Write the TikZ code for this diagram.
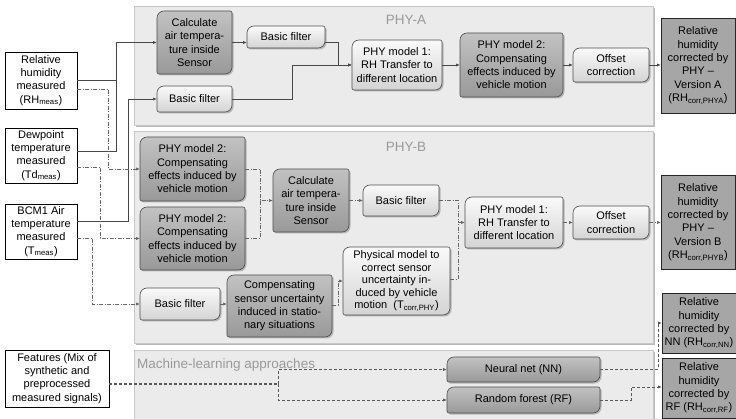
\documentclass[tikz,border=0pt]{standalone}
\usepackage{fontspec}
\setmainfont{Liberation Sans}
\usetikzlibrary{arrows.meta}
\pgfdeclarelayer{back}
\pgfdeclarelayer{boxes}
\pgfsetlayers{back,boxes,main}

\tikzset{
  txt/.style={font=\fontsize{11}{13.3}\selectfont, align=center, inner sep=0pt, outer sep=0pt},
  boxsize/.style 2 args={minimum width=#1pt, minimum height=#2pt},
  inbox/.style={txt, draw=black, fill=white, line width=0.8pt},
  outbox/.style={txt, draw=black!85, fill=black!35, line width=0.8pt},
  darkfill/.style={draw=black!70, line width=0.6pt, top color=black!24, bottom color=black!40},
  lightfill/.style={draw=black!70, line width=0.6pt, top color=black!2, bottom color=black!17},
  panel/.style={draw=black!22, fill=black!8, line width=0.8pt},
  paneltitle/.style={font=\fontsize{13.5}{16}\selectfont, text=black!40, inner sep=0pt},
  solidcon/.style={draw=black!72, line width=0.8pt},
  dotcon/.style={draw=black!60, line width=0.7pt, dash pattern=on 4pt off 1.5pt on 1pt off 1.5pt},
  dashcon/.style={draw=black!65, line width=0.8pt, dash pattern=on 3pt off 2pt},
  tip/.style={-{Latex[length=4pt,width=3.2pt]}},
}

% rounded at top left and bottom right, nearly square elsewhere
\newcommand\diagshape[2]{%
  \begin{pgfonlayer}{boxes}
    \fill[black!50, opacity=.5, transform canvas={shift={(1.5pt,-1.5pt)}}]
      ([yshift=2pt]#2.south west) -- ([yshift=-7pt]#2.north west)
      arc[start angle=180, end angle=90, radius=7pt] -- ([xshift=-2pt]#2.north east)
      arc[start angle=90, end angle=0, radius=2pt] -- ([yshift=7pt]#2.south east)
      arc[start angle=0, end angle=-90, radius=7pt] -- ([xshift=2pt]#2.south west)
      arc[start angle=270, end angle=180, radius=2pt] -- cycle;
    \path[#1]
      ([yshift=2pt]#2.south west) -- ([yshift=-7pt]#2.north west)
      arc[start angle=180, end angle=90, radius=7pt] -- ([xshift=-2pt]#2.north east)
      arc[start angle=90, end angle=0, radius=2pt] -- ([yshift=7pt]#2.south east)
      arc[start angle=0, end angle=-90, radius=7pt] -- ([xshift=2pt]#2.south west)
      arc[start angle=270, end angle=180, radius=2pt] -- cycle;
  \end{pgfonlayer}}

\begin{document}
\begin{tikzpicture}[x=1pt, y=-1pt]
  \useasboundingbox (0,0) rectangle (736,419);

  % panels
  \begin{pgfonlayer}{back}
    \fill[black!28] (136,8) rectangle (655,127);
    \draw[panel] (134,6) rectangle (653,125);
    \fill[black!28] (136,133) rectangle (655,345);
    \draw[panel] (134,131) rectangle (653,343);
    \fill[black!28] (136,352) rectangle (655,425);
    \draw[panel] (134,350) rectangle (653,423);
  \end{pgfonlayer}
  \node[paneltitle] (tphya) at (406,20) {PHY-A};
  \node[paneltitle] (tphyb) at (406,147) {PHY-B};
  \node[paneltitle, anchor=west] (tml) at (137,365) {Machine-learning approaches};

  % measured inputs
  \node[inbox, boxsize={72}{57}] (rhin) at (41,80.5) {Relative\\humidity\\measured\\(RH\textsubscript{meas})};
  \node[inbox, boxsize={72}{55}] (tdin) at (41,155.5) {Dewpoint\\temperature\\measured\\(Td\textsubscript{meas})};
  \node[inbox, boxsize={72}{55}] (tin) at (41,231.5) {BCM1 Air\\temperature\\measured\\(T\textsubscript{meas})};
  \node[inbox, boxsize={104}{57}] (featin) at (57,378.5) {Features (Mix of\\synthetic and\\preprocessed\\measured signals)};

  % PHY-A
  \node[txt, boxsize={75}{63}] (calca) at (194.5,42.5) {Calculate\\air tempera-\\ture inside\\Sensor};
  \node[txt, boxsize={78}{22}] (filta1) at (286,37) {Basic filter};
  \node[txt, boxsize={75}{26}] (filta2) at (194.5,99) {Basic filter};
  \node[txt, boxsize={90}{50}] (mod1a) at (397,65) {PHY model 1:\\RH Transfer to\\different location};
  \node[txt, boxsize={103}{64}] (mod2a) at (511.5,65) {PHY model 2:\\Compensating\\effects induced by\\vehicle motion};
  \node[txt, boxsize={76}{34}] (offa) at (611,65) {Offset\\correction};
  \node[outbox, boxsize={74}{95}] (outa) at (698,65.5) {Relative\\humidity\\corrected by\\PHY --\\Version A\\(RH\textsubscript{corr,PHYA})};

  % PHY-B
  \node[txt, boxsize={105}{64}] (mod2b1) at (192.5,169) {PHY model 2:\\Compensating\\effects induced by\\vehicle motion};
  \node[txt, boxsize={105}{63}] (mod2b2) at (192.5,238.5) {PHY model 2:\\Compensating\\effects induced by\\vehicle motion};
  \node[txt, boxsize={76}{63}] (calcb) at (311,200.5) {Calculate\\air tempera-\\ture inside\\Sensor};
  \node[txt, boxsize={76}{31}] (filtb1) at (401,200.5) {Basic filter};
  \node[txt, boxsize={98}{51}] (mod1b) at (514,222.5) {PHY model 1:\\RH Transfer to\\different location};
  \node[txt, boxsize={76}{33}] (offb) at (611,222.5) {Offset\\correction};
  \node[outbox, boxsize={74}{94}] (outb) at (698,222.5) {Relative\\humidity\\corrected by\\PHY --\\Version B\\(RH\textsubscript{corr,PHYB})};
  \node[txt, boxsize={80}{32}] (filtb2) at (180,304) {Basic filter};
  \node[txt, boxsize={105}{62}] (compb) at (279.5,306) {Compensating\\sensor uncertainty\\induced in statio-\\nary situations};
  \node[txt, boxsize={107}{68}, font=\fontsize{11}{12.5}\selectfont] (physb) at (396.5,281) {Physical model to\\correct sensor\\uncertainty in-\\duced by vehicle\\motion~~(T\textsubscript{corr,PHY})};

  % machine learning
  \node[txt, boxsize={153}{25}] (nn) at (523.5,369.5) {Neural net (NN)};
  \node[txt, boxsize={153}{26}] (rf) at (523.5,400) {Random forest (RF)};
  \node[outbox, boxsize={74}{60}] (outnn) at (699,323) {Relative\\humidity\\corrected by\\NN (RH\textsubscript{corr,NN})};
  \node[outbox, boxsize={74}{60}] (outrf) at (699,388) {Relative\\humidity\\corrected by\\RF (RH\textsubscript{corr,RF})};

  \foreach \n in {calca,mod2a,mod2b1,mod2b2,calcb,compb,nn,rf} {\diagshape{darkfill}{\n}}
  \foreach \n in {filta1,filta2,mod1a,offa,filtb1,mod1b,offb,filtb2,physb} {\diagshape{lightfill}{\n}}

  % junctions
  \coordinate (jcalc) at (116,0);
  \coordinate (jfilt) at (128,0);
  \coordinate (jmoda) at (338,0);
  \coordinate (jmodb) at (292,0);
  \coordinate (jb1) at (108,0);
  \coordinate (jb2) at (100,0);
  \coordinate (jb3) at (92,0);
  \coordinate (jcb) at (260,0);
  \coordinate (jm1b) at (458,0);
  \coordinate (jcp) at (338,0);
  \coordinate (jml) at (278,384);
  \coordinate (jnn) at (658,0);
  \coordinate (jrf) at (631,0);

  % PHY-A connectors
  \draw[solidcon, tip] (rhin.east) -| (jcalc |- calca.west) -- (calca.west);
  \draw[solidcon] ([yshift=4.5pt]tdin.east) -| (jcalc |- rhin.east);
  \draw[solidcon, tip] ([yshift=10pt]tin.east) -| (jfilt |- filta2.west) -- (filta2.west);
  \draw[solidcon, tip] (calca.east) -- (calca.east -| filta1.west);
  \draw[solidcon, tip] (calca.east -| filta1.east) -| (jmoda |- mod1a.west) -- (mod1a.west);
  \draw[solidcon, tip] (filta2.east) -| (jmodb |- mod1a.west) -- (mod1a.west);
  \draw[solidcon, tip] (mod1a) -- (mod2a);
  \draw[solidcon, tip] (mod2a) -- (offa);
  \draw[solidcon, tip] (offa) -- (outa.west |- offa);

  % PHY-B connectors
  \draw[dotcon, tip] ([yshift=-8.5pt]rhin.east) -| (jb1 |- mod2b1.west) -- (mod2b1.west);
  \draw[dotcon, tip] ([yshift=-11.5pt]tdin.east) -| (jb2 |- mod2b2.west) -- (mod2b2.west);
  \draw[dotcon, tip] ([yshift=-6.5pt]tin.east) -| (jb3 |- filtb2.west) -- (filtb2.west);
  \draw[dotcon, tip] (mod2b1.east) -| (jcb |- calcb.west) -- (calcb.west);
  \draw[dotcon] (mod2b2.east) -| (jcb |- calcb.west);
  \draw[dotcon, tip] (calcb) -- (filtb1);
  \draw[dotcon, tip] (filtb1.east) -| (jm1b |- mod1b.west) -- (mod1b.west);
  \draw[dotcon] ([yshift=2pt]physb.east) -| (jm1b |- mod1b.west);
  \draw[dotcon, tip] (mod1b) -- (offb);
  \draw[dotcon, tip] (offb) -- (outb);
  \draw[dotcon, tip] (filtb2.east) -- (filtb2.east -| compb.west);
  \draw[dotcon, tip] ([yshift=1pt]compb.east) -| (jcp |- physb.west) -- (physb.west);

  % machine-learning connectors
  \draw[dashcon, line width=1.3pt] ([yshift=-5.5pt]featin.east) -- (jml);
  \draw[dashcon, tip] (jml) |- (nn.west);
  \draw[dashcon, tip] (jml) |- (rf.west);
  \draw[dashcon, tip] (nn.east) -| (jnn |- outnn.west) -- (outnn.west);
  \draw[dashcon, tip] (rf.east) -| ([yshift=1pt]jrf |- outrf.west) -- ([yshift=1pt]outrf.west);
\end{tikzpicture}
\end{document}
